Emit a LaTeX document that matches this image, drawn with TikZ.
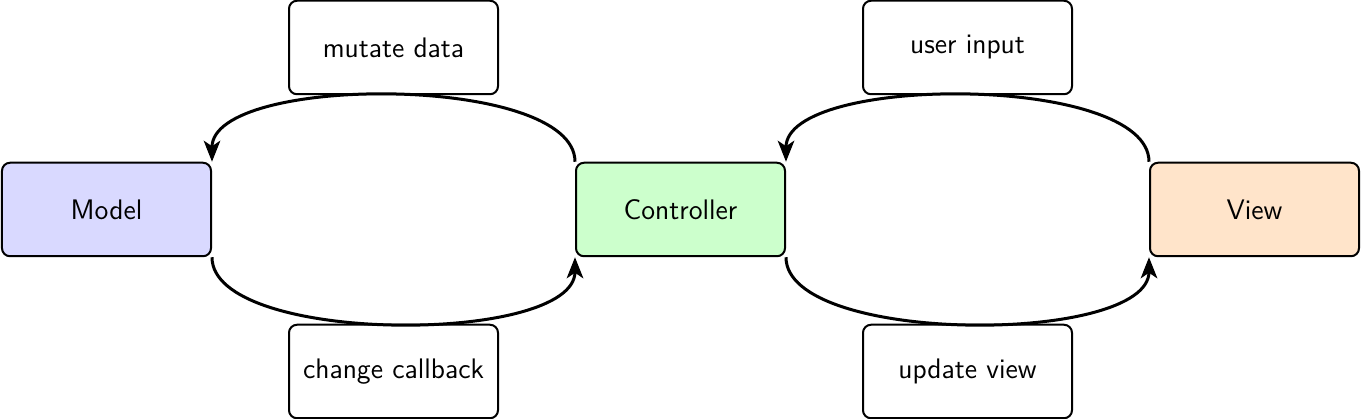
\documentclass[tikz,border=0pt]{standalone}
\usetikzlibrary{arrows.meta}
\definecolor{modelfill}{RGB}{217,217,255}
\definecolor{ctrlfill}{RGB}{204,255,204}
\definecolor{viewfill}{RGB}{255,228,202}
\begin{document}
\begin{tikzpicture}[x=0.4pt,y=0.4pt,
  box/.style={draw, line width=0.8pt, rounded corners=3.2pt,
    minimum width=83.6pt, minimum height=37.4pt, inner sep=0pt,
    font=\sffamily\fontsize{11.3}{13.5}\selectfont},
  flow/.style={line width=1.2pt,
    -{Stealth[length=8.4pt,width=6.6pt,inset=2.2pt]}}]
\useasboundingbox (0,0) rectangle (1361,419);
\node[box, fill=modelfill] (model) at (106.5,209.5) {Model};
\node[box, fill=ctrlfill] (ctrl) at (680.5,209.5) {Controller};
\node[box, fill=viewfill] (view) at (1254.5,209.5) {View};
\node[box] (mutate) at (393.5,371.5) {mutate data};
\node[box] (change) at (393.5,47.5) {change callback};
\node[box] (input) at (967.5,371.5) {user input};
\node[box] (update) at (967.5,47.5) {update view};
\draw[flow] (ctrl.north west) .. controls +(0,88) and +(0,88) .. (model.north east);
\draw[flow] (model.south east) .. controls +(0,-88) and +(0,-88) .. (ctrl.south west);
\draw[flow] (view.north west) .. controls +(0,88) and +(0,88) .. (ctrl.north east);
\draw[flow] (ctrl.south east) .. controls +(0,-88) and +(0,-88) .. (view.south west);
\end{tikzpicture}
\end{document}
